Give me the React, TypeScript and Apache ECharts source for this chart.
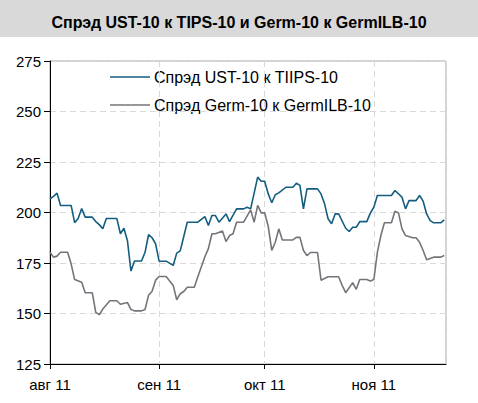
import React, { useEffect, useRef } from "react";
import * as echarts from "echarts";

const titleText = "Спрэд UST-10 к TIPS-10 и Germ-10 к GermILB-10";
const seriesNames = ["Спрэд UST-10 к TIIPS-10", "Спрэд Germ-10 к GermILB-10"];
const seriesColors = ["#135e80", "#77737b"];
const monthLabels = ["авг 11", "сен 11", "окт 11", "ноя 11"];
const yTicks = [125, 150, 175, 200, 225, 250, 275];

const ustDates = [
  "2011-08-01","2011-08-02","2011-08-03","2011-08-04","2011-08-07","2011-08-08","2011-08-09","2011-08-10",
  "2011-08-11","2011-08-13","2011-08-14","2011-08-15","2011-08-16","2011-08-17","2011-08-20","2011-08-21",
  "2011-08-22","2011-08-23","2011-08-24","2011-08-25","2011-08-27","2011-08-28","2011-08-29","2011-08-30",
  "2011-08-31","2011-09-01","2011-09-03","2011-09-05","2011-09-06","2011-09-07","2011-09-09","2011-09-12",
  "2011-09-14","2011-09-15","2011-09-16","2011-09-17","2011-09-18","2011-09-20","2011-09-21","2011-09-23",
  "2011-09-25","2011-09-26","2011-09-27","2011-09-29","2011-09-30","2011-10-01","2011-10-02","2011-10-03",
  "2011-10-04","2011-10-05","2011-10-07","2011-10-09","2011-10-10","2011-10-11","2011-10-12","2011-10-13",
  "2011-10-16","2011-10-17","2011-10-18","2011-10-19","2011-10-20","2011-10-21","2011-10-22","2011-10-24",
  "2011-10-25","2011-10-26","2011-10-27","2011-10-28","2011-10-30","2011-10-31","2011-11-01","2011-11-02",
  "2011-11-06","2011-11-07","2011-11-09","2011-11-10","2011-11-11","2011-11-13","2011-11-14","2011-11-15",
  "2011-11-16","2011-11-17","2011-11-18","2011-11-20","2011-11-21"
];
const ustValues = [
  206.8,208,209.6,203.5,203.5,195,197,202,
  197.7,197.7,195.5,194,192,197,197,189.5,
  192.2,186,171,176,176,180.3,189,187.5,
  184.5,175.9,175.9,173.8,179.9,181,195.2,195.2,
  198,193.6,198.5,198.5,195.2,199.3,195.5,201.8,
  201.8,202.6,201.8,217.5,215.5,215.5,209.2,204.8,
  208.8,209.7,212.5,212.5,214.5,213.4,201.8,211.7,
  211.7,209.2,204.3,196.9,194.4,199.3,199.3,192.2,
  190.6,192.7,192.7,195.5,195.5,199.7,202.6,208.4,
  208.4,210.9,207.6,201.8,205.9,205.9,208.4,205.6,
  199.3,196,194.9,194.9,196.4
];

const germDates = [
  "2011-08-01","2011-08-02","2011-08-03","2011-08-04","2011-08-06","2011-08-07","2011-08-08","2011-08-10",
  "2011-08-11","2011-08-13","2011-08-14","2011-08-15","2011-08-16","2011-08-18","2011-08-20","2011-08-21",
  "2011-08-23","2011-08-24","2011-08-25","2011-08-27","2011-08-28","2011-08-29","2011-08-30","2011-08-31",
  "2011-09-01","2011-09-03","2011-09-05","2011-09-06","2011-09-07","2011-09-08","2011-09-09","2011-09-11",
  "2011-09-12","2011-09-14","2011-09-15","2011-09-16","2011-09-17","2011-09-19","2011-09-20","2011-09-21",
  "2011-09-22","2011-09-23","2011-09-25","2011-09-27","2011-09-28","2011-09-29","2011-09-30","2011-10-01",
  "2011-10-02","2011-10-03","2011-10-04","2011-10-05","2011-10-06","2011-10-09","2011-10-10","2011-10-11",
  "2011-10-12","2011-10-13","2011-10-14","2011-10-16","2011-10-17","2011-10-18","2011-10-19","2011-10-22",
  "2011-10-23","2011-10-24","2011-10-26","2011-10-27","2011-10-28","2011-10-30","2011-10-31","2011-11-01",
  "2011-11-02","2011-11-03","2011-11-04","2011-11-06","2011-11-07","2011-11-08","2011-11-09","2011-11-10",
  "2011-11-12","2011-11-13","2011-11-14","2011-11-15","2011-11-16","2011-11-18","2011-11-20","2011-11-21"
];
const germValues = [
  180.3,177.9,178.4,180.3,180.3,174.6,166.8,165.5,
  160.3,160.3,150.6,149.4,152.2,156.3,156.3,154.6,
  155.4,152,151.3,151.3,152,159,161,166.5,
  168.3,168.3,163.9,156.8,159.8,160.9,163,163,
  168.2,178.1,182.1,189.5,189.5,190.8,185.6,188.6,
  189.5,195.2,195.2,201.3,195.2,203.5,199.8,199.8,
  193.1,181.2,185.3,191.9,186.4,186.4,187.7,187.7,
  181.2,178.7,180.2,180.2,166.5,167.3,168.2,168.2,
  163.9,160.3,165.3,162,166.8,166.8,166.1,166.8,
  180.3,188.6,194.9,194.9,200.6,199.8,191.9,188.6,
  187.5,187.5,185.3,181.2,176.6,177.9,177.9,178.7
];

const FONT = "'Liberation Sans', Arial, Helvetica, sans-serif";

export default function App() {
  const ref = useRef<HTMLDivElement>(null);
  useEffect(() => {
    if (!ref.current) return;
    const chart = echarts.init(ref.current, null, { renderer: "svg" });
    const ust = ustDates.map((d, i) => [d, ustValues[i]]);
    const germ = germDates.map((d, i) => [d, germValues[i]]);
    const xMin = new Date(2011, 7, 1).getTime();
    const xMax = new Date(2011, 10, 21, 12).getTime();
    const day = 86400000;
    const legendItems: any[] = [];
    seriesNames.forEach((name, i) => {
      const y = 77 + i * 28;
      legendItems.push({
        type: "line",
        shape: { x1: 110, y1: y, x2: 150, y2: y },
        style: { stroke: seriesColors[i], lineWidth: 1.6 },
      });
      legendItems.push({
        type: "text",
        x: 154,
        y,
        style: {
          text: name,
          fill: "#000",
          font: `16px ${FONT}`,
          verticalAlign: "middle",
          align: "left",
        },
      });
    });
    chart.setOption({
      animation: false,
      backgroundColor: "#ffffff",
      textStyle: { fontFamily: FONT },
      graphic: [
        { type: "rect", z: -10, shape: { x: 0, y: 0, width: 478, height: 37 }, style: { fill: "#d9d9d9" } },
        ...legendItems,
      ],
      title: {
        text: titleText,
        left: "center",
        top: 9,
        textStyle: { fontFamily: FONT, fontSize: 16, fontWeight: "bold", color: "#000" },
      },
      grid: {
        left: 50,
        right: 32,
        top: 61,
        bottom: 39,
        show: true,
        borderColor: "#a6a6a6",
        borderWidth: 1,
        backgroundColor: "transparent",
      },
      xAxis: {
        type: "time",
        min: xMin,
        max: xMax,
        minInterval: 28 * day,
        maxInterval: 31 * day,
        axisLine: { show: true, lineStyle: { color: "#000", width: 1 } },
        axisTick: { show: true, length: 5, lineStyle: { color: "#000" } },
        splitLine: { show: true, lineStyle: { color: "#d9d9d9", type: [6, 4], width: 1 } },
        axisLabel: {
          fontFamily: FONT,
          fontSize: 15,
          color: "#000",
          margin: 13,
          showMinLabel: true,
          formatter: (v: number) => {
            const d = new Date(v);
            if (d.getDate() !== 1) return "";
            return monthLabels[d.getMonth() - 7] ?? "";
          },
        },
      },
      yAxis: {
        type: "value",
        min: 125,
        max: 275,
        interval: 25,
        axisLine: { show: true, lineStyle: { color: "#000", width: 1 } },
        axisTick: { show: true, length: 6, lineStyle: { color: "#000" } },
        splitLine: { show: true, lineStyle: { color: "#d9d9d9", type: [6, 4], width: 1 } },
        axisLabel: {
          fontFamily: FONT,
          fontSize: 15,
          color: "#000",
          margin: 9,
          formatter: (v: number) => (yTicks.includes(v) ? String(v) : ""),
        },
      },
      series: [
        {
          name: seriesNames[0],
          type: "line",
          data: ust,
          symbol: "none",
          lineStyle: { color: seriesColors[0], width: 1.6 },
          itemStyle: { color: seriesColors[0] },
        },
        {
          name: seriesNames[1],
          type: "line",
          data: germ,
          symbol: "none",
          lineStyle: { color: seriesColors[1], width: 1.6 },
          itemStyle: { color: seriesColors[1] },
        },
      ],
    });
    return () => chart.dispose();
  }, []);
  return (
    <div
      ref={ref}
      style={{ position: "fixed", left: 0, top: 0, width: 478, height: 403, background: "#fff" }}
    />
  );
}
